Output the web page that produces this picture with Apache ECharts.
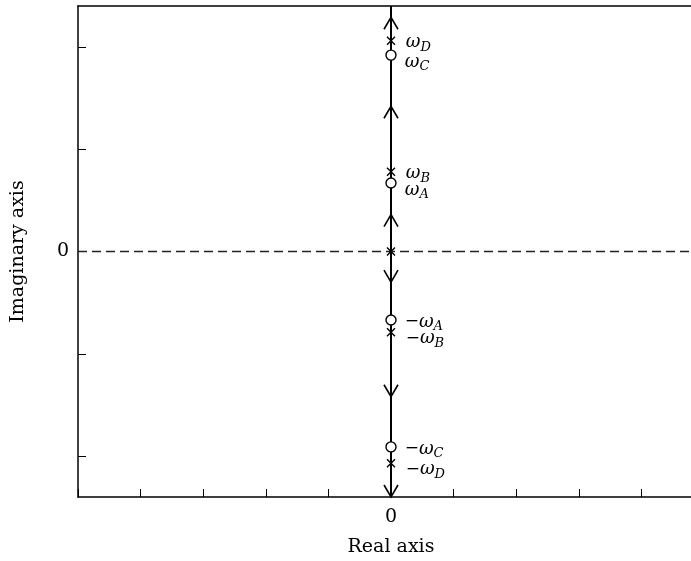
<!DOCTYPE html>
<html>
<head>
<meta charset="utf-8">
<script src="https://cdn.jsdelivr.net/npm/echarts@6/dist/echarts.min.js"></script>
<style>html,body{margin:0;padding:0;background:#fff}#c{width:691px;height:561px}</style>
</head>
<body>
<div id="c"></div>
<script>
// ---- data ----
var xRange = [-5, 5];
var yRange = [-2.4, 2.4];
var yTickValues = [-2, -1, 0, 1, 2];
var tickLabels = [0];
var poleRe = [0, 0, 0, 0, 0];
var poleIm = [2.06, 0.78, 0, -0.79, -2.07];
var poleNames = ['ωD', 'ωB', '', '−ωB', '−ωD'];
var zeroRe = [0, 0, 0, 0];
var zeroIm = [1.92, 0.67, -0.67, -1.91];
var zeroNames = ['ωC', 'ωA', '−ωA', '−ωC'];
var arrowsUp = [2.29, 1.42, 0.36];
var arrowsDown = [-0.30, -1.42, -2.40];
var xAxisName = 'Real axis';
var yAxisName = 'Imaginary axis';

var serif = '"DejaVu Serif", "Liberation Serif", serif';
var arrowData = arrowsUp.map(function (v) { return [0, v, 1]; })
  .concat(arrowsDown.map(function (v) { return [0, v, -1]; }));

function lbl(name) {
  if (!name) return '';
  var neg = name.charAt(0) === '−';
  var core = neg ? name.slice(1) : name;
  return (neg ? '{m|−}' : '') + '{w|' + core.charAt(0) + '}{s|' + core.slice(1) + '}';
}
var rich = {
  m: { fontFamily: serif, fontSize: 17, color: '#000' },
  w: { fontFamily: serif, fontSize: 18, fontStyle: 'italic', color: '#000' },
  s: { fontFamily: serif, fontSize: 13, fontStyle: 'italic', color: '#000', padding: [10, 0, 0, 0] }
};

function build(re, im, names, upOff, downOff) {
  return im.map(function (v, i) {
    return {
      value: [re[i], v],
      label: { formatter: lbl(names[i]), offset: [0, v > 0 ? upOff : downOff] }
    };
  });
}

var chart = echarts.init(document.getElementById('c'), null, { renderer: 'canvas' });
chart.setOption({
  animation: false,
  backgroundColor: '#fff',
  grid: { left: 78, top: 6, width: 626, height: 491, outerBoundsMode: 'none', containLabel: false },
  xAxis: [{
    type: 'value', min: xRange[0], max: xRange[1], interval: 1,
    name: xAxisName, nameLocation: 'middle', nameGap: 41,
    nameTextStyle: { fontFamily: serif, fontSize: 19, color: '#000' },
    axisLine: { onZero: false, lineStyle: { color: '#000', width: 1.5 } },
    axisTick: { inside: true, length: 8, lineStyle: { color: '#000', width: 1 } },
    axisLabel: { customValues: tickLabels, fontFamily: serif, fontSize: 19, color: '#000', margin: 11 },
    splitLine: { show: false }
  }, {
    type: 'value', position: 'top', min: xRange[0], max: xRange[1], interval: 1,
    axisLine: { onZero: false, lineStyle: { color: '#000', width: 1.5 } },
    axisTick: { show: false }, axisLabel: { show: false }, splitLine: { show: false }
  }],
  yAxis: {
    type: 'value', min: yRange[0], max: yRange[1],
    name: yAxisName, nameLocation: 'middle', nameGap: 50, nameRotate: 90,
    nameTextStyle: { fontFamily: serif, fontSize: 19, color: '#000' },
    axisLine: { onZero: false, lineStyle: { color: '#000', width: 1.5 } },
    axisTick: { inside: true, length: 8, customValues: yTickValues, lineStyle: { color: '#000', width: 1 } },
    axisLabel: { customValues: tickLabels, fontFamily: serif, fontSize: 19, color: '#000', margin: 9 },
    splitLine: { show: false }
  },
  series: [
    {
      type: 'line', data: [[xRange[0], 0], [xRange[1], 0]], symbol: 'none', silent: true,
      lineStyle: { color: '#222', width: 1.3, type: [9, 5] }, z: 1
    },
    {
      type: 'line', data: [[0, yRange[0]], [0, yRange[1]]], symbol: 'none', silent: true,
      lineStyle: { color: '#000', width: 2 }, z: 2
    },
    {
      type: 'custom', data: arrowData, z: 3, silent: true,
      renderItem: function (params, api) {
        var p = api.coord([api.value(0), api.value(1)]);
        var d = api.value(2);
        return {
          type: 'polyline',
          shape: { points: [[p[0] - 7, p[1] + d * 12], [p[0], p[1]], [p[0] + 7, p[1] + d * 12]] },
          style: { stroke: '#000', lineWidth: 1.6, fill: null }
        };
      }
    },
    {
      type: 'scatter', data: build(zeroRe, zeroIm, zeroNames, 7, 2), symbol: 'circle', symbolSize: 10, z: 4,
      itemStyle: { color: '#fff', borderColor: '#000', borderWidth: 1.4, opacity: 1 },
      label: { show: true, position: 'right', distance: 8, rich: rich }
    },
    {
      type: 'scatter', data: build(poleRe, poleIm, poleNames, 2, 6), symbol: 'path://M0,0 L10,10 M10,0 L0,10', symbolSize: 8, z: 4,
      itemStyle: { color: 'transparent', borderColor: '#000', borderWidth: 1.4, opacity: 1 },
      label: { show: true, position: 'right', distance: 10, rich: rich }
    }
  ]
});
</script>
</body>
</html>
